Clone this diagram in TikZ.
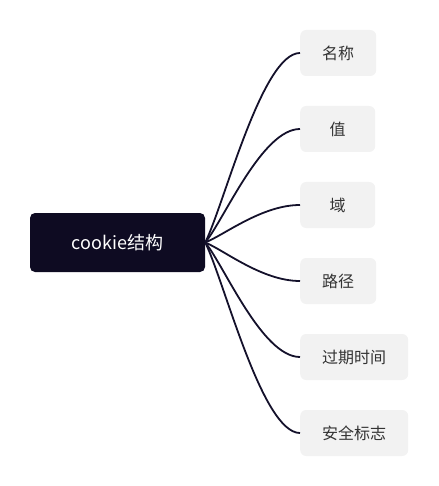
\documentclass[tikz,border=0pt]{standalone}
\usepackage{fontspec}
\setmainfont{Noto Sans CJK SC}
\definecolor{rootfill}{HTML}{0E0B22}
\definecolor{leaffill}{HTML}{F2F2F2}
\definecolor{leaftext}{HTML}{333333}
\definecolor{linkcol}{HTML}{14112B}

\tikzset{
  rootbox/.style={draw=none, fill=rootfill, rounded corners=5pt, text=white,
    minimum width=175pt, minimum height=59pt, inner sep=0pt,
    font=\fontsize{18}{20}\selectfont},
  leafbox/.style={draw=none, fill=leaffill, rounded corners=6pt, text=leaftext,
    anchor=west, minimum width=75pt, minimum height=46pt, inner xsep=22pt,
    font=\fontsize{16}{18}\selectfont},
  link/.style={line width=1.8pt, draw=linkcol}
}

\begin{document}
\begin{tikzpicture}[x=1pt, y=-1pt]

  \useasboundingbox (0,0) rectangle (438,486);

  % root in the middle left
  \node[rootbox] (cookie) at (117.5,242.5) {cookie结构};

  % the six fields, stacked on the right
  \node[leafbox] (name)   at (300, 53)  {名称};
  \node[leafbox] (value)  at (300,129)  {值};
  \node[leafbox] (domain) at (300,205)  {域};
  \node[leafbox] (path)   at (300,281)  {路径};
  \node[leafbox] (expire) at (300,357)  {过期时间};
  \node[leafbox] (secure) at (300,433)  {安全标志};

  % links: leave at an angle, arrive flat
  \draw[link] (cookie.east) .. controls +(19,-38) and +(-38,0) .. (name.west);
  \draw[link] (cookie.east) .. controls +(19,-23) and +(-38,0) .. (value.west);
  \draw[link] (cookie.east) .. controls +(19,-7.5) and +(-38,0) .. (domain.west);
  \draw[link] (cookie.east) .. controls +(19,7.7) and +(-38,0) .. (path.west);
  \draw[link] (cookie.east) .. controls +(19,23) and +(-38,0) .. (expire.west);
  \draw[link] (cookie.east) .. controls +(19,38) and +(-38,0) .. (secure.west);

\end{tikzpicture}
\end{document}
